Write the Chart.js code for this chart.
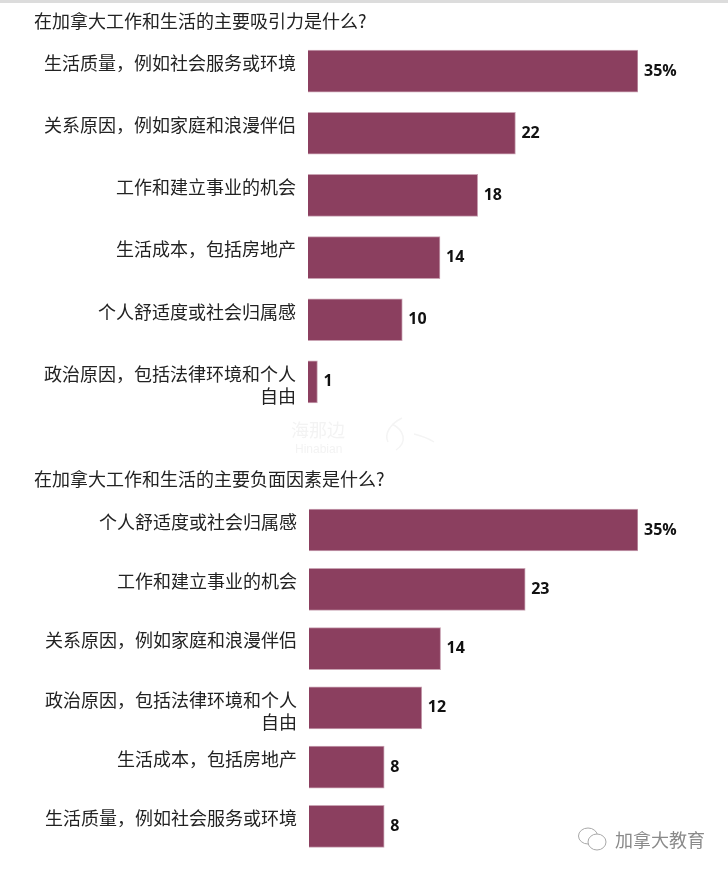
<!DOCTYPE html>
<html><head><meta charset="utf-8">
<style>
html,body{margin:0;padding:0;background:#fff;width:728px;height:872px;overflow:hidden}
canvas{position:absolute;left:0;top:0}
#rule{position:absolute;left:0;top:0;width:728px;height:3px;background:#dcdcdc}
.wm{position:absolute;font-family:"Noto Sans CJK SC"}
</style>
<script src="https://cdn.jsdelivr.net/npm/chart.js@4"></script>
</head><body>
<div id="rule"></div>
<div style="position:absolute;left:0;top:0;width:728px;height:430px"><canvas id="c1" width="728" height="430"></canvas></div>
<div style="position:absolute;left:0;top:466px;width:728px;height:406px"><canvas id="c2" width="728" height="406"></canvas></div>
<div class="wm" style="left:291px;top:416px;font-size:18px;color:#f3f3f3">海那边</div>
<div class="wm" style="left:295px;top:442px;font-size:12px;color:#f3f3f3;font-family:'Liberation Sans'">Hinabian</div>
<svg style="position:absolute;left:370px;top:416px" width="66" height="40" viewBox="0 0 66 40" fill="none" stroke="#f4f4f4" stroke-width="1.5">
<path d="M32 2C20 8 14 18 18 26"/><path d="M22 8C34 14 38 26 26 34"/><path d="M44 18C52 20 58 22 64 26"/>
</svg>
<svg style="position:absolute;left:577px;top:826px" width="32" height="28" viewBox="0 0 32 28" fill="none" stroke="#a8a8a8" stroke-width="1">
<ellipse cx="11" cy="10" rx="9.5" ry="8"/><ellipse cx="20" cy="16" rx="9" ry="8" fill="#fff"/>
</svg>
<div class="wm" style="left:615px;top:828px;font-size:18px;line-height:22px;color:#8a8a8a">加拿大教育</div>
<script>
const title1 = "在加拿大工作和生活的主要吸引力是什么?";
const categories1 = [["生活质量\uFF0C例如社会服务或环境",""],["关系原因\uFF0C例如家庭和浪漫伴侣",""],["工作和建立事业的机会",""],["生活成本\uFF0C包括房地产",""],["个人舒适度或社会归属感",""],["政治原因\uFF0C包括法律环境和个人","自由"]];
const values1 = [35,22,18,14,10,1];
const title2 = "在加拿大工作和生活的主要负面因素是什么?";
const categories2 = [["个人舒适度或社会归属感",""],["工作和建立事业的机会",""],["关系原因\uFF0C例如家庭和浪漫伴侣",""],["政治原因\uFF0C包括法律环境和个人","自由"],["生活成本\uFF0C包括房地产",""],["生活质量\uFF0C例如社会服务或环境",""]];
const values2 = [35,23,14,12,8,8];

const CJK = '"Noto Sans CJK SC"';
const valueLabels = {
  id:'valueLabels',
  afterDatasetsDraw(chart){
    const ctx=chart.ctx, meta=chart.getDatasetMeta(0), data=chart.data.datasets[0].data;
    ctx.save();
    ctx.fillStyle='#111';
    ctx.font='bold 16px "Open Sans"';
    ctx.textBaseline='middle'; ctx.textAlign='left';
    meta.data.forEach((b,i)=>ctx.fillText(data[i]+(i===0?'%':''), b.x+6, b.y));
    ctx.restore();
  }
};
function make(id,title,cats,vals,yAxisW,padTop,padBottom,areaBottomPad){
  new Chart(document.getElementById(id),{
    type:'bar',
    data:{labels:cats,datasets:[{data:vals,backgroundColor:'#8b3f5f',borderColor:'#c9a3b3',borderWidth:1,barThickness:42}]},
    plugins:[valueLabels],
    options:{
      indexAxis:'y',responsive:false,animation:false,
      layout:{padding:{left:34,right:90,top:0,bottom:areaBottomPad}},
      plugins:{legend:{display:false},tooltip:{enabled:false},
        title:{display:true,text:title,align:'start',color:'#222',
          font:{family:CJK,size:18,weight:'normal',lineHeight:1.2},
          padding:{top:padTop,bottom:padBottom}}},
      scales:{
        x:{display:false,min:0,max:35},
        y:{
          afterFit(s){s.width=yAxisW-34;s.paddingTop=0;s.paddingBottom=0;},
          grid:{display:false,drawTicks:false},border:{display:false},
          ticks:{color:'#222',font:{family:CJK,size:18,lineHeight:22/18},padding:12,labelOffset:3,autoSkip:false}
        }
      }
    }
  });
}
make('c1',title1,categories1,values1,308,10.2,8.2,17);
make('c2',title2,categories2,values2,309,2.2,10.6,16);
</script>
</body></html>
